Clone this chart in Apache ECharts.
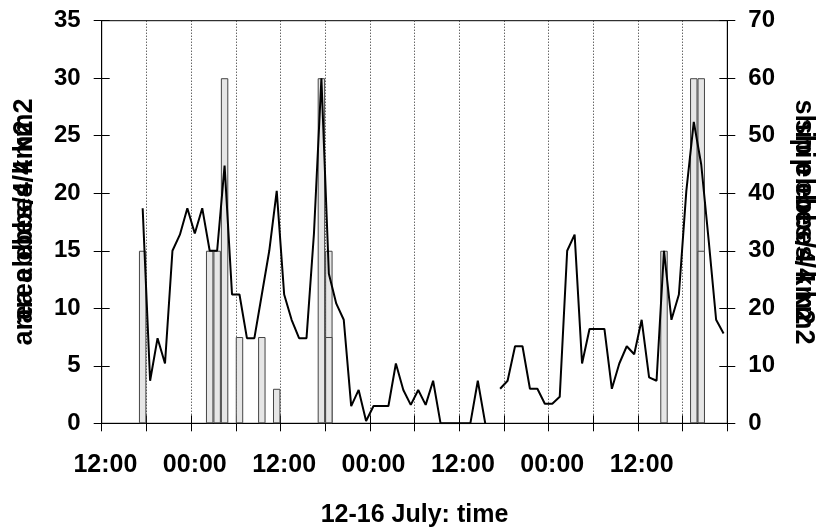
<!DOCTYPE html>
<html>
<head>
<meta charset="utf-8">
<script src="https://cdn.jsdelivr.net/npm/echarts@6/dist/echarts.min.js"></script>
<style>
html,body{margin:0;padding:0;background:#fff;}
#chart{width:820px;height:527px;}
</style>
</head>
<body>
<div id="chart"></div>
<script>
// ---- data ----
const tickLabels = ['12:00', '00:00', '12:00', '00:00', '12:00', '00:00', '12:00'];
const xAxisTitle = '12-16 July: time';
const leftTitle = 'area ebbes/4 km2';
const rightTitle = 'ship ebbes/4 km2';
// hourly line (left axis)
const areaLine = [null, null, null, null, null, 18.7, 3.7, 7.4, 5.2, 15,
  16.4, 18.7, 16.5, 18.7, 15, 15, 22.4, 11.2, 11.2, 7.4,
  7.4, 11.2, 15, 20.2, 11.2, 9.0, 7.4, 7.4, 16.5, 30,
  13, 10.4, 9.0, 1.5, 2.9, 0.2, 1.5, 1.5, 1.5, 5.2,
  2.9, 1.6, 2.9, 1.6, 3.7, 0, 0, 0, 0, 0,
  3.7, 0, null, 3.0, 3.7, 6.7, 6.7, 3.0, 3.0, 1.7,
  1.7, 2.3, 15, 16.4, 5.2, 8.2, 8.2, 8.2, 3.0, 5.2,
  6.7, 6.0, 9.0, 4.0, 3.7, 15, 9.0, 11.2, 20.2, 26.2,
  22.5, 15.9, 9.0, 7.8];
// ship bars (right axis)
const barHoursA = [5, 14, 15, 16, 18, 21, 23, 29, 30, 75, 79, 80];
const barValuesA = [30, 30, 30, 60, 15, 15, 6, 60, 30, 30, 60, 60];
const barHoursB = [30, 80];
const barValuesB = [15, 30];

// ---- build ----
const hours = [];
for (let i = 0; i < areaLine.length; i++) hours.push(String(i));
const barDataA = barHoursA.map((h, i) => [h, barValuesA[i]]);
const barDataB = barHoursB.map((h, i) => [h, barValuesB[i]]);

const FONT = "'Liberation Sans', Arial, sans-serif";
const txt = {color: '#000', fontFamily: FONT, fontWeight: 'bold'};
const black = {color: '#000', width: 1};

const chart = echarts.init(document.getElementById('chart'), null, {renderer: 'canvas'});
chart.setOption({
  animation: false,
  backgroundColor: '#fff',
  grid: {left: 101.7, right: 92.7, top: 20.7, bottom: 103.7, containLabel: false, outerBoundsMode: 'none',
    show: true, borderColor: '#000', borderWidth: 1, backgroundColor: 'transparent'},
  xAxis: [
    {
      type: 'category', data: hours, boundaryGap: true, position: 'bottom',
      axisLine: {show: true, lineStyle: black},
      axisTick: {show: true, interval: 5, length: 8, lineStyle: black},
      axisLabel: Object.assign({interval: 11, fontSize: 25, margin: 29,
        formatter: (v, idx) => tickLabels[Math.round(idx / 12)] || ''}, txt),
      splitLine: {show: true, interval: 5, lineStyle: {type: [1, 2], color: '#222', width: 1}},
      name: xAxisTitle, nameLocation: 'middle', nameGap: 79,
      nameTextStyle: Object.assign({fontSize: 25}, txt)
    },
    {
      type: 'category', data: hours, boundaryGap: true, position: 'bottom',
      axisLine: {show: false},
      axisTick: {show: true, inside: true, interval: 5, length: 8, lineStyle: black},
      axisLabel: {show: false}, splitLine: {show: false}
    }
  ],
  yAxis: [
    {
      type: 'value', position: 'left', min: 0, max: 35, interval: 5,
      axisLine: {show: true, lineStyle: black},
      axisTick: {show: true, length: 8, lineStyle: black},
      axisLabel: Object.assign({fontSize: 24, margin: 21}, txt),
      splitLine: {show: false},
      name: leftTitle, nameLocation: 'middle', nameGap: 64,
      nameTextStyle: Object.assign({fontSize: 27, padding: [0, 0, 0, 22]}, txt)
    },
    {
      type: 'value', position: 'left', min: 0, max: 35, interval: 5,
      axisLine: {show: false},
      axisTick: {show: true, inside: true, length: 8, lineStyle: black},
      axisLabel: {show: false}, splitLine: {show: false},
      name: leftTitle, nameLocation: 'middle', nameGap: 64,
      nameTextStyle: Object.assign({fontSize: 27, padding: [0, 22, 0, 0]}, txt)
    },
    {
      type: 'value', position: 'right', min: 0, max: 70, interval: 10,
      axisLine: {show: true, lineStyle: black},
      axisTick: {show: true, length: 8, lineStyle: black},
      axisLabel: Object.assign({fontSize: 24, margin: 21}, txt),
      splitLine: {show: false},
      name: rightTitle, nameLocation: 'middle', nameGap: 63, nameRotate: -90,
      nameTextStyle: Object.assign({fontSize: 27, padding: [0, 0, 0, 20]}, txt)
    },
    {
      type: 'value', position: 'right', min: 0, max: 70, interval: 10,
      axisLine: {show: false},
      axisTick: {show: true, inside: true, length: 8, lineStyle: black},
      axisLabel: {show: false}, splitLine: {show: false},
      name: rightTitle, nameLocation: 'middle', nameGap: 63, nameRotate: -90,
      nameTextStyle: Object.assign({fontSize: 27, padding: [0, 20, 0, 0]}, txt)
    }
  ],
  series: [
    {
      type: 'bar', xAxisIndex: 0, yAxisIndex: 2, data: barDataA,
      barWidth: '100%', barGap: '-100%', barCategoryGap: '0%',
      itemStyle: {color: '#e6e6e6', borderColor: '#444', borderWidth: 1},
      z: 2
    },
    {
      type: 'bar', xAxisIndex: 0, yAxisIndex: 2, data: barDataB,
      barWidth: '100%', barGap: '-100%', barCategoryGap: '0%',
      itemStyle: {color: '#e6e6e6', borderColor: '#444', borderWidth: 1},
      z: 2
    },
    {
      type: 'line', xAxisIndex: 0, yAxisIndex: 0, data: areaLine,
      showSymbol: false, symbol: 'none', connectNulls: false,
      lineStyle: {color: '#000', width: 2},
      z: 5
    }
  ]
});
</script>
</body>
</html>
